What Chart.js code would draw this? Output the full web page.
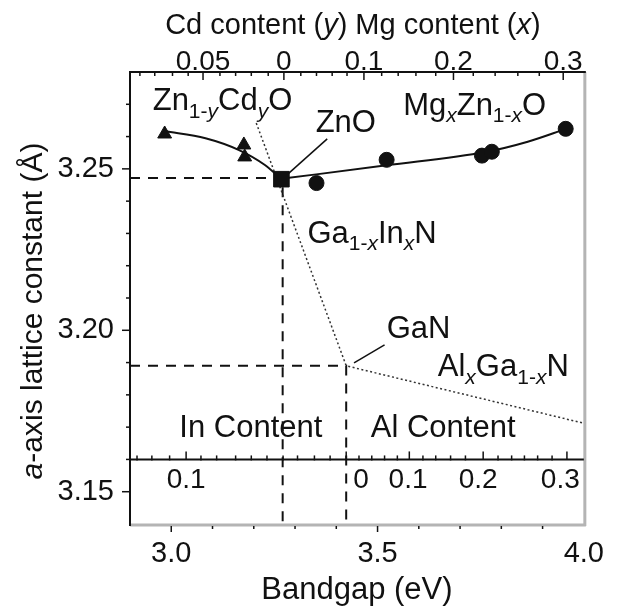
<!DOCTYPE html>
<html>
<head>
<meta charset="utf-8">
<script src="https://cdn.jsdelivr.net/npm/chart.js@4.4.1/dist/chart.umd.min.js"></script>
<style>
  html, body { margin: 0; padding: 0; background: #fff; }
</style>
</head>
<body>
<canvas id="latticeChart" width="617" height="612"></canvas>
<script>
// values (bandgap in eV, a-axis lattice constant in Å)
const cdBandgap = [2.984, 3.176, 3.178];
const cdLattice = [3.2608, 3.2574, 3.2537];
const znoBandgap = [3.267];
const znoLattice = [3.2468];
const mgBandgap = [3.352, 3.522, 3.753, 3.777, 3.956];
const mgLattice = [3.2456, 3.2528, 3.2541, 3.2553, 3.2624];

// guide curves through the oxide points
const cdFitBandgap = [2.984, 3.083, 3.163, 3.227, 3.266];
const cdFitLattice = [3.2617, 3.2595, 3.2559, 3.2512, 3.2469];
const mgFitBandgap = [3.266, 3.522, 3.761, 3.864, 3.957];
const mgFitLattice = [3.2469, 3.2511, 3.2552, 3.2584, 3.2624];

// nitride line: GaInN -> GaN -> AlGaN
const nitrideBandgap = [3.206, 3.424, 4.0];
const nitrideLattice = [3.2642, 3.189, 3.1712];

// dashed reference lines at ZnO and GaN
const znoRefBandgap = [2.9, 3.27, 3.27];
const znoRefLattice = [3.2472, 3.2472, 3.14];
const ganRefBandgap = [2.9, 3.424, 3.424];
const ganRefLattice = [3.189, 3.189, 3.14];

// leader lines from the ZnO and GaN labels
const znoLeaderBandgap = [3.378, 3.275];
const znoLeaderLattice = [3.2593, 3.2475];
const ganLeaderBandgap = [3.517, 3.443];
const ganLeaderLattice = [3.1955, 3.1899];

// axes
const xTicks = [3.0, 3.5, 4.0];
const xTickLabels = ["3.0", "3.5", "4.0"];
const xMinorTicks = [3.1, 3.2, 3.3, 3.4, 3.6, 3.7, 3.8, 3.9];
const yTicks = [3.15, 3.20, 3.25];
const yTickLabels = ["3.15", "3.20", "3.25"];
const yMinorTicks = [3.16, 3.17, 3.18, 3.19, 3.21, 3.22, 3.23, 3.24, 3.26, 3.27];

// top axis: Cd content (y) left of ZnO, Mg content (x) right, placed at bandgap
const topTicks = [3.077, 3.273, 3.467, 3.684, 3.950];
const topTickLabels = ["0.05", "0", "0.1", "0.2", "0.3"];
const topMinorTicks = [2.924, 2.960, 3.003, 3.041, 3.118, 3.156, 3.194, 3.235,
    3.314, 3.352, 3.390, 3.426, 3.510, 3.550, 3.593, 3.641, 3.732, 3.785, 3.840, 3.892];

// inner axis: In content (left of GaN) and Al content (right of GaN)
const contentAxisLattice = 3.16;
const contentTicks = [3.036, 3.424, 3.577, 3.756, 3.959];
const contentMinorTicks = [2.917, 2.953, 2.996, 3.072, 3.110, 3.156, 3.194, 3.232, 3.271,
    3.306, 3.347, 3.385, 3.455, 3.486, 3.517, 3.548, 3.610, 3.641, 3.677, 3.713,
    3.792, 3.825, 3.856, 3.888, 3.923];
const contentLabels = ["0.1", "0", "0.1", "0.2", "0.3"];
const contentLabelPos = [3.036, 3.460, 3.574, 3.744, 3.943];

const FONT = '"Liberation Sans", Arial, Helvetica, sans-serif';
const INK = "#111";

function pts(xs, ys) {
    return xs.map((v, i) => ({ x: v, y: ys[i] }));
}

function drawRich(ctx, parts, x, y, size, align) {
    const sub = Math.round(size * 0.68);
    const isSub = (p) => p[1] && p[1].includes("s");
    const font = (p) => (p[1] && p[1].includes("i") ? "italic " : "") + (isSub(p) ? sub : size) + "px " + FONT;
    let w = 0;
    parts.forEach((p) => { ctx.font = font(p); w += ctx.measureText(p[0]).width; });
    let cx = align === "center" ? x - w / 2 : x;
    ctx.textAlign = "left";
    ctx.textBaseline = "alphabetic";
    parts.forEach((p) => {
        ctx.font = font(p);
        ctx.fillText(p[0], cx, isSub(p) ? y + size * 0.24 : y);
        cx += ctx.measureText(p[0]).width;
    });
}

const notes = [
    { parts: [["Zn"], ["1-", "s"], ["y", "si"], ["Cd"], ["y", "si"], ["O"]], x: 2.955, y: 3.2682 },
    { parts: [["ZnO"]], x: 3.350, y: 3.2614 },
    { parts: [["Mg"], ["x", "si"], ["Zn"], ["1-", "s"], ["x", "si"], ["O"]], x: 3.562, y: 3.2667 },
    { parts: [["Ga"], ["1-", "s"], ["x", "si"], ["In"], ["x", "si"], ["N"]], x: 3.330, y: 3.2271 },
    { parts: [["GaN"]], x: 3.522, y: 3.1976 },
    { parts: [["Al"], ["x", "si"], ["Ga"], ["1-", "s"], ["x", "si"], ["N"]], x: 3.646, y: 3.1857 },
    { parts: [["In Content"]], x: 3.193, y: 3.167, align: "center" },
    { parts: [["Al Content"]], x: 3.659, y: 3.167, align: "center" },
];

const decorations = {
    id: "decorations",
    afterDraw(chart) {
        const { ctx, chartArea: a, scales: { x, y } } = chart;
        const px = (v) => x.getPixelForValue(v);
        const py = (v) => y.getPixelForValue(v);
        const line = (x1, y1, x2, y2) => {
            ctx.beginPath();
            ctx.moveTo(x1, y1);
            ctx.lineTo(x2, y2);
            ctx.stroke();
        };
        ctx.save();

        // frame
        ctx.strokeStyle = "#b4b4b4";
        ctx.lineWidth = 3;
        line(a.right + 1, a.top, a.right + 1, a.bottom + 2);
        line(a.left, a.bottom + 1, a.right + 2, a.bottom + 1);
        ctx.strokeStyle = INK;
        ctx.lineWidth = 2;
        line(a.left, a.top, a.left, a.bottom + 2);
        line(a.left - 1, a.top, a.right + 2, a.top);

        // ticks
        ctx.lineWidth = 1.5;
        yTicks.forEach((v) => line(a.left - 8, py(v), a.left, py(v)));
        yMinorTicks.forEach((v) => line(a.left - 4, py(v), a.left, py(v)));
        xTicks.slice(0, 2).forEach((v) => line(px(v), a.bottom + 2, px(v), a.bottom + 8));
        xMinorTicks.forEach((v) => line(px(v), a.bottom + 2, px(v), a.bottom + 5));
        topTicks.forEach((v) => line(px(v), a.top, px(v), a.top + 8));
        topMinorTicks.forEach((v) => line(px(v), a.top, px(v), a.top + 4));

        // inner content axis
        const y0 = py(contentAxisLattice);
        ctx.lineWidth = 2;
        line(a.left, y0, a.right, y0);
        ctx.lineWidth = 1.5;
        contentTicks.forEach((v) => line(px(v), y0, px(v), y0 - 8));
        contentMinorTicks.forEach((v) => line(px(v), y0 + 1, px(v), y0 - 4));
        ctx.fillStyle = INK;
        ctx.font = "28px " + FONT;
        ctx.textAlign = "center";
        ctx.textBaseline = "middle";
        contentLabels.forEach((t, i) => ctx.fillText(t, px(contentLabelPos[i]), y0 + 21));

        // labels inside the plot
        notes.forEach((n) => drawRich(ctx, n.parts, px(n.x), py(n.y), 31, n.align));

        // axis titles with italic letters
        drawRich(ctx, [["Cd content ("], ["y", "i"], [") Mg content ("], ["x", "i"], [")"]],
            (a.left + a.right) / 2 - 4, 34, 29, "center");
        ctx.translate(42, (a.top + a.bottom) / 2 + 13);
        ctx.rotate(-Math.PI / 2);
        drawRich(ctx, [["a", "i"], ["-axis lattice constant (Å)"]], 0, 0, 30, "center");
        ctx.restore();
    },
};

const tickFont = { family: FONT, size: 29 };
const noGrid = { display: false, drawTicks: false };

new Chart(document.getElementById("latticeChart"), {
    type: "scatter",
    data: {
        datasets: [
            {
                data: pts(znoBandgap, znoLattice),
                pointStyle: "rect", pointRadius: 11,
                backgroundColor: INK, borderColor: INK,
            },
            {
                data: pts(cdBandgap, cdLattice),
                pointStyle: "triangle", pointRadius: 8,
                backgroundColor: INK, borderColor: INK,
            },
            {
                data: pts(mgBandgap, mgLattice),
                pointStyle: "circle", pointRadius: 7.5,
                backgroundColor: INK, borderColor: INK,
            },
            {
                data: pts(cdFitBandgap, cdFitLattice),
                showLine: true, pointRadius: 0, borderWidth: 2,
                borderColor: INK, cubicInterpolationMode: "monotone",
            },
            {
                data: pts(mgFitBandgap, mgFitLattice),
                showLine: true, pointRadius: 0, borderWidth: 2,
                borderColor: INK, cubicInterpolationMode: "monotone",
            },
            {
                data: pts(nitrideBandgap, nitrideLattice),
                showLine: true, pointRadius: 0, borderWidth: 1.5,
                borderColor: "#333", borderDash: [2, 2.5],
            },
            {
                data: pts(znoRefBandgap, znoRefLattice),
                showLine: true, pointRadius: 0, borderWidth: 2,
                borderColor: INK, borderDash: [10, 8],
            },
            {
                data: pts(ganRefBandgap, ganRefLattice),
                showLine: true, pointRadius: 0, borderWidth: 2,
                borderColor: INK, borderDash: [10, 8],
            },
            {
                data: pts(znoLeaderBandgap, znoLeaderLattice),
                showLine: true, pointRadius: 0, borderWidth: 1.5, borderColor: INK,
            },
            {
                data: pts(ganLeaderBandgap, ganLeaderLattice),
                showLine: true, pointRadius: 0, borderWidth: 1.5, borderColor: INK,
            },
        ],
    },
    options: {
        responsive: false,
        animation: false,
        devicePixelRatio: 1,
        layout: { padding: { left: 0, right: 27, top: 0, bottom: 0 } },
        plugins: { legend: { display: false }, tooltip: { enabled: false } },
        scales: {
            x: {
                type: "linear", position: "bottom", min: 2.9, max: 4.0,
                grid: noGrid, border: { display: false },
                afterBuildTicks: (s) => { s.ticks = xTicks.map((v) => ({ value: v })); },
                afterFit: (s) => { s.height = 88; },
                ticks: {
                    autoSkip: false, maxRotation: 0, padding: 13, color: INK, font: tickFont,
                    callback: (v, i) => xTickLabels[i],
                },
                title: {
                    display: true, text: "Bandgap (eV)", color: INK,
                    font: { family: FONT, size: 31 }, padding: { top: 0, bottom: 3 },
                },
            },
            x2: {
                type: "linear", position: "top", min: 2.9, max: 4.0,
                grid: noGrid, border: { display: false },
                afterBuildTicks: (s) => { s.ticks = topTicks.map((v) => ({ value: v })); },
                afterFit: (s) => { s.height = 72; },
                ticks: {
                    autoSkip: false, maxRotation: 0, padding: -7, color: INK,
                    font: { family: FONT, size: 28 },
                    callback: (v, i) => topTickLabels[i],
                },
            },
            y: {
                type: "linear", position: "left", min: 3.14, max: 3.28,
                grid: noGrid, border: { display: false },
                afterBuildTicks: (s) => { s.ticks = yTicks.map((v) => ({ value: v })); },
                afterFit: (s) => { s.width = 130; },
                ticks: {
                    autoSkip: false, padding: 16, color: INK, font: tickFont,
                    callback: (v, i) => yTickLabels[i],
                },
            },
        },
    },
    plugins: [decorations],
});
</script>
</body>
</html>
